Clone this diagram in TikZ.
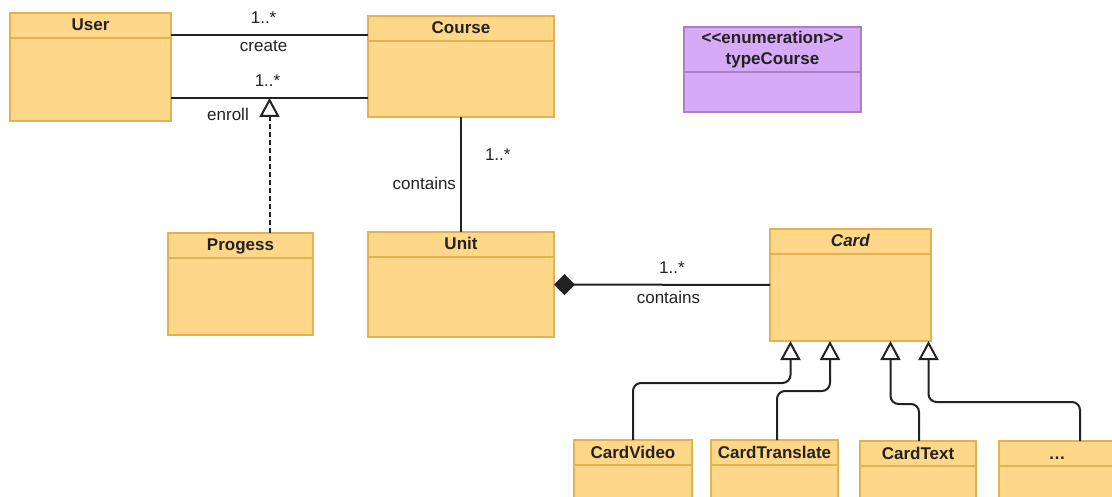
\documentclass[tikz,border=0pt]{standalone}
\usepackage{fontspec}
\setmainfont{Liberation Sans}
\usetikzlibrary{arrows.meta}
\definecolor{clsfill}{RGB}{254,216,136}
\definecolor{clsline}{RGB}{226,178,82}
\definecolor{enumfill}{RGB}{214,170,246}
\definecolor{enumline}{RGB}{168,128,196}
\definecolor{ink}{RGB}{34,34,34}
\begin{document}
    \begin{tikzpicture}[x=1pt,y=-1pt,
        cls/.style={draw=clsline,fill=clsfill,line width=1.5pt,anchor=north west,inner sep=0pt,outer sep=0pt},
        hdr/.style={text=ink,font=\fontsize{17}{21}\selectfont\bfseries,inner sep=0pt,text height=12pt,text depth=1pt},
        lbl/.style={text=ink,font=\fontsize{17}{21}\selectfont,inner sep=0pt},
        assoc/.style={draw=ink,line width=2pt},
        hollow/.style={-{Triangle[open,fill=white,width=20pt,length=19pt]}},
        inh/.style={assoc,hollow,rounded corners=8pt}]
        \useasboundingbox[fill=white] (0,0) rectangle (1112,497);
        \foreach \n/\x/\y/\w/\h/\t in {User/10/13/161/108/User,Course/368/16/186/101/Course,
            Progess/168/233/145/102/Progess,Unit/368/232/186/105/Unit,Card/770/229/161/112/\textit{Card},
            CardVideo/574/440/118/90/CardVideo,CardTranslate/711/440/127/90/CardTranslate,
            CardText/860/441/116/90/CardText,More/999/441/116/90/\ldots}{
            \node[cls,minimum width=\w pt,minimum height=\h pt] (\n) at (\x,\y) {};
            \draw[clsline,line width=1.5pt] ([yshift=-25pt]\n.north west)--([yshift=-25pt]\n.north east);
            \node[hdr] (\n-name) at ([yshift=-12.5pt]\n.north) {\t};
        }
        \node[cls,draw=enumline,fill=enumfill,minimum width=177pt,minimum height=85pt] (typeCourse) at (684,27) {};
        \draw[enumline,line width=1.5pt] ([yshift=-45pt]typeCourse.north west)--([yshift=-45pt]typeCourse.north east);
        \node[hdr,align=center,text height=,text depth=] (typeCourse-name) at ([yshift=-22.5pt]typeCourse.north) {<{}<enumeration>{}>\\typeCourse};
        \coordinate (cr) at ([yshift=-22pt]User.north east);
        \coordinate (en) at ([yshift=-85pt]User.north east);
        \draw[assoc] (cr)--(cr-|Course.west) node[lbl,pos=.47,above=10pt] (create-m) {1..*}
            node[lbl,pos=.47,below=5pt] (create-l) {create};
        \draw[assoc] (en)--(en-|Course.west) node[lbl,pos=.49,above=10pt] (enroll-m) {1..*}
            node[lbl,pos=.4,anchor=north east,yshift=-9pt] (enroll-l) {enroll};
        \coordinate (pr) at ([xshift=29pt]Progess.north);
        \draw[assoc,hollow,dash pattern=on 5pt off 3pt] (pr)--(pr|-en);
        \draw[assoc] (Course.south)--(Unit.north) node[lbl,pos=.33,anchor=west,xshift=23pt] (cu-m) {1..*}
            node[lbl,pos=.58,anchor=east,xshift=-4pt] (cu-l) {contains};
        \draw[assoc,{Diamond[width=21pt,length=21pt]}-] (Unit.east)--(Card.west)
            node[lbl,pos=.546,above=10pt] (uc-m) {1..*} node[lbl,pos=.53,below=5pt] (uc-l) {contains};
        \foreach \s/\ox/\dx/\dy in {CardVideo/0/20.5/42,CardTranslate/2.5/60/50,CardText/1/120.5/63,More/23/158.5/61}
            \draw[inh] ([xshift=\ox pt]\s.north) |- ([xshift=\dx pt,yshift=-\dy pt]Card.south west)--([xshift=\dx pt]Card.south west);
    \end{tikzpicture}
\end{document}
